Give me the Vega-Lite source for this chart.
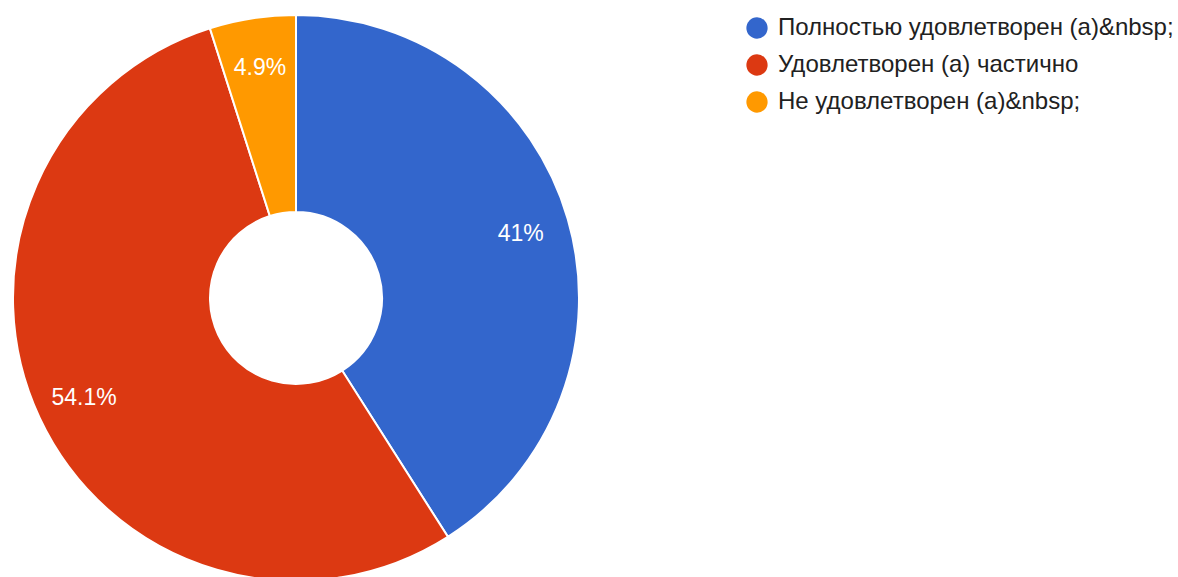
{
  "$schema": "https://vega.github.io/schema/vega-lite/v6.json",
  "width": 592,
  "height": 577,
  "autosize": {"type": "none"},
  "padding": {"left": 0, "top": 0, "right": 586, "bottom": 0},
  "background": "white",
  "config": {"view": {"stroke": null}},
  "data": {
    "values": [
      {"answer": "Полностью удовлетворен (а)&nbsp;", "count": 25, "label": "41%", "order": 1},
      {"answer": "Удовлетворен (а) частично", "count": 33, "label": "54.1%", "order": 2},
      {"answer": "Не удовлетворен (а)&nbsp;", "count": 3, "label": "4.9%", "order": 3}
    ]
  },
  "encoding": {
    "theta": {"field": "count", "type": "quantitative", "stack": true},
    "order": {"field": "order", "type": "quantitative"}
  },
  "layer": [
    {
      "mark": {"type": "arc", "outerRadius": 283, "innerRadius": 86, "stroke": "white", "strokeWidth": 2, "yOffset": 9.5},
      "encoding": {
        "color": {
          "field": "answer",
          "type": "nominal",
          "scale": {
            "domain": ["Полностью удовлетворен (а)&nbsp;", "Удовлетворен (а) частично", "Не удовлетворен (а)&nbsp;"],
            "range": ["#3366CC", "#DC3912", "#FF9900"]
          },
          "legend": {
            "title": null,
            "orient": "none",
            "legendX": 745,
            "legendY": 16,
            "padding": 0,
            "symbolType": "circle",
            "symbolSize": 452,
            "symbolStrokeWidth": 0,
            "labelFont": "Liberation Sans",
            "labelFontSize": 24,
            "labelColor": "#212121",
            "labelOffset": 9,
            "labelLimit": 600,
            "rowPadding": 13
          }
        }
      }
    },
    {
      "mark": {"type": "text", "radius": 234, "yOffset": 10.5, "fill": "white", "font": "Liberation Sans", "fontSize": 23, "align": "center", "baseline": "middle"},
      "encoding": {
        "text": {"field": "label", "type": "nominal"}
      }
    }
  ]
}
